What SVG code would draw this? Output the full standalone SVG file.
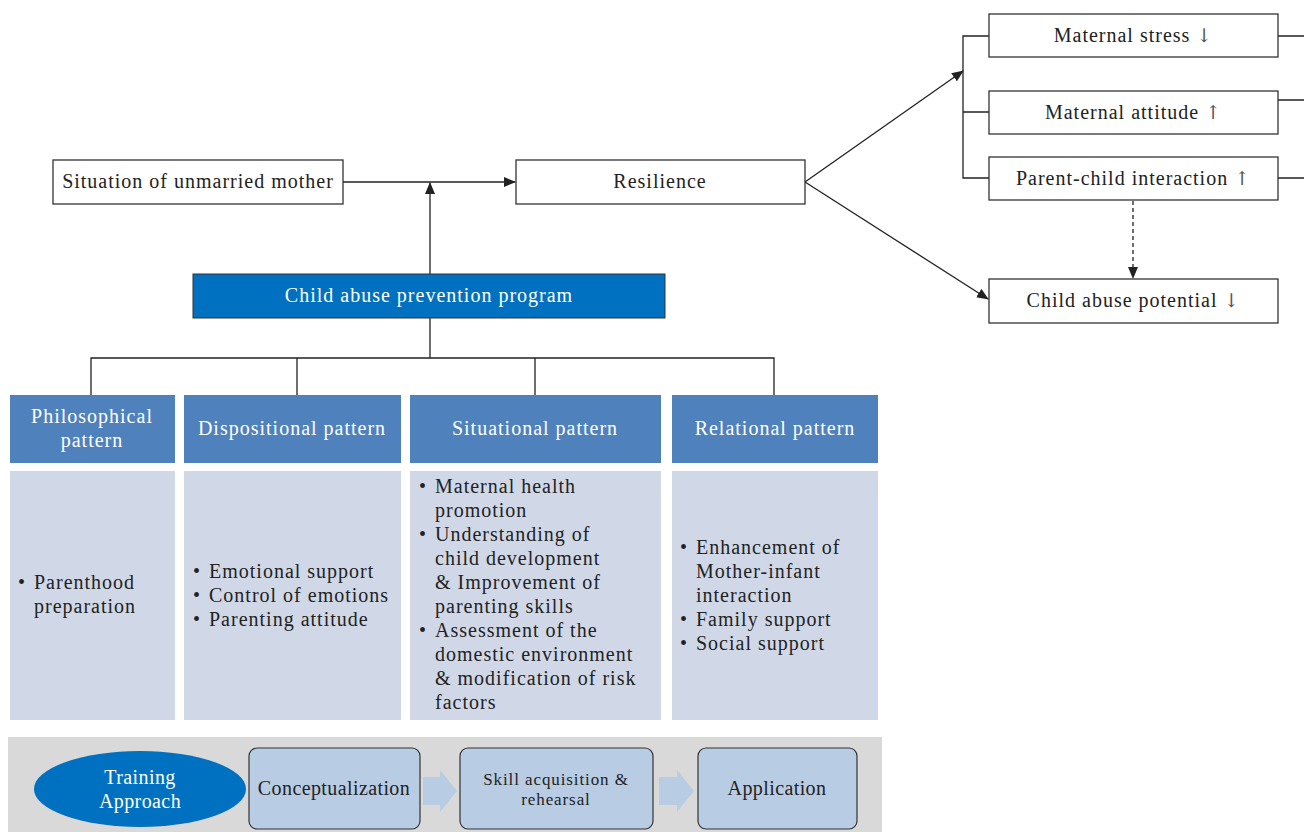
<svg xmlns="http://www.w3.org/2000/svg" width="1304" height="832" viewBox="0 0 1304 832">
<style>
text{font-family:"Liberation Serif","DejaVu Serif",serif;font-size:20px;fill:#222;letter-spacing:1px}
.box{fill:#fff;stroke:#333;stroke-width:1.3}
.c{text-anchor:middle}
.hdr{fill:#4F81BD}
.hdr-t{fill:#fff;text-anchor:middle;font-size:20px}
.cnt{fill:#D0D8E8}
.ln{stroke:#222;stroke-width:1.3;fill:none}
.step{fill:#B8CCE4;stroke:#333;stroke-width:1.2}
.cond{font-size:20px;letter-spacing:0.4px}
.arr{font-family:"DejaVu Serif","DejaVu Sans",serif;fill:#555;font-size:19px;letter-spacing:0}
</style>
<defs>
<marker id="ah" markerWidth="12" markerHeight="10" refX="11" refY="5" orient="auto" markerUnits="userSpaceOnUse">
<path d="M0,0 L12,5 L0,10 Z" fill="#222"/>
</marker>
</defs>
<rect width="1304" height="832" fill="#fff"/>

<g id="connectors">
<line class="ln" x1="343" y1="182" x2="515" y2="182" marker-end="url(#ah)"/>
<line class="ln" x1="430" y1="274" x2="430" y2="183" marker-end="url(#ah)"/>
<path class="ln" d="M430,318 V358 M91,395 V358 H774 V395 M297,358 V395 M535,358 V395"/>
<line class="ln" x1="805" y1="182" x2="963" y2="71" marker-end="url(#ah)"/>
<line class="ln" x1="805" y1="182" x2="988" y2="299" marker-end="url(#ah)"/>
<path class="ln" d="M989,36 H963 V178 H989 M963,112 H989"/>
<path class="ln" d="M1278,36 H1304 M1278,100 H1304 M1278,178 H1304"/>
<line class="ln" x1="1133" y1="201" x2="1133" y2="278" stroke-dasharray="4,3" marker-end="url(#ah)"/>
</g>

<g id="situation">
<rect class="box" x="53" y="160" width="290" height="44"/>
<text class="c" x="198" y="188">Situation of unmarried mother</text>
</g>
<g id="resilience">
<rect class="box" x="516" y="160" width="289" height="44"/>
<text class="c" x="660" y="188">Resilience</text>
</g>
<g id="program">
<rect x="193" y="274" width="472" height="44" fill="#0070C0" stroke="#333" stroke-width="1"/>
<text class="c" x="429" y="302" style="fill:#fff">Child abuse prevention program</text>
</g>
<g id="maternal-stress">
<rect class="box" x="989" y="14" width="289" height="43"/>
<text class="c" x="1133" y="42">Maternal stress <tspan class="arr">↓</tspan></text>
</g>
<g id="maternal-attitude">
<rect class="box" x="989" y="91" width="289" height="43"/>
<text class="c" x="1133" y="119">Maternal attitude <tspan class="arr">↑</tspan></text>
</g>
<g id="parent-child">
<rect class="box" x="989" y="157" width="289" height="43"/>
<text class="c" x="1133" y="185">Parent-child interaction <tspan class="arr">↑</tspan></text>
</g>
<g id="abuse-potential">
<rect class="box" x="989" y="279" width="289" height="44"/>
<text class="c" x="1133" y="307">Child abuse potential <tspan class="arr">↓</tspan></text>
</g>

<g id="philosophical">
<rect class="hdr" x="10" y="395" width="165" height="68"/>
<text class="hdr-t" x="92" y="423">Philosophical</text>
<text class="hdr-t" x="92" y="447">pattern</text>
<rect class="cnt" x="10" y="471" width="165" height="249"/>
<text x="18" y="589">•</text><text x="34" y="589">Parenthood</text>
<text x="34" y="613">preparation</text>
</g>
<g id="dispositional">
<rect class="hdr" x="184" y="395" width="217" height="68"/>
<text class="hdr-t" x="292" y="435">Dispositional pattern</text>
<rect class="cnt" x="184" y="471" width="217" height="249"/>
<text x="193" y="578">•</text><text x="209" y="578">Emotional support</text>
<text x="193" y="602">•</text><text x="209" y="602">Control of emotions</text>
<text x="193" y="626">•</text><text x="209" y="626">Parenting attitude</text>
</g>
<g id="situational">
<rect class="hdr" x="410" y="395" width="251" height="68"/>
<text class="hdr-t" x="535" y="435">Situational pattern</text>
<rect class="cnt" x="410" y="471" width="251" height="249"/>
<text x="419" y="493">•</text><text x="435" y="493">Maternal health</text>
<text x="435" y="517">promotion</text>
<text x="419" y="541">•</text><text x="435" y="541">Understanding of</text>
<text x="435" y="565">child development</text>
<text x="435" y="589">&amp; Improvement of</text>
<text x="435" y="613">parenting skills</text>
<text x="419" y="637">•</text><text x="435" y="637">Assessment of the</text>
<text x="435" y="661">domestic environment</text>
<text x="435" y="685">&amp; modification of risk</text>
<text x="435" y="709">factors</text>
</g>
<g id="relational">
<rect class="hdr" x="672" y="395" width="206" height="68"/>
<text class="hdr-t" x="775" y="435">Relational pattern</text>
<rect class="cnt" x="672" y="471" width="206" height="249"/>
<text x="680" y="554">•</text><text x="696" y="554">Enhancement of</text>
<text x="696" y="578">Mother-infant</text>
<text x="696" y="602">interaction</text>
<text x="680" y="626">•</text><text x="696" y="626">Family support</text>
<text x="680" y="650">•</text><text x="696" y="650">Social support</text>
</g>

<g id="training">
<rect x="8" y="737" width="874" height="95" fill="#D9D9D9"/>
<ellipse cx="140" cy="789" rx="106" ry="38" fill="#0070C0"/>
<text class="c cond" x="140" y="784" style="fill:#fff">Training</text>
<text class="c cond" x="140" y="808" style="fill:#fff">Approach</text>
<path d="M423,777 H440 V770 L457,791 L440,812 V805 H423 Z" fill="#B8CCE4"/>
<path d="M659,777 H677 V770 L694,791 L677,812 V805 H659 Z" fill="#B8CCE4"/>
</g>
<g id="conceptualization">
<rect class="step" x="249" y="748" width="171" height="81" rx="8"/>
<text class="c cond" x="334" y="795">Conceptualization</text>
</g>
<g id="skill">
<rect class="step" x="460" y="748" width="193" height="81" rx="8"/>
<text class="c" x="556" y="785" style="font-size:17px;letter-spacing:0.9px">Skill acquisition &amp;</text>
<text class="c" x="556" y="805" style="font-size:17px;letter-spacing:0.9px">rehearsal</text>
</g>
<g id="application">
<rect class="step" x="698" y="748" width="159" height="81" rx="8"/>
<text class="c cond" x="777" y="795">Application</text>
</g>
</svg>
